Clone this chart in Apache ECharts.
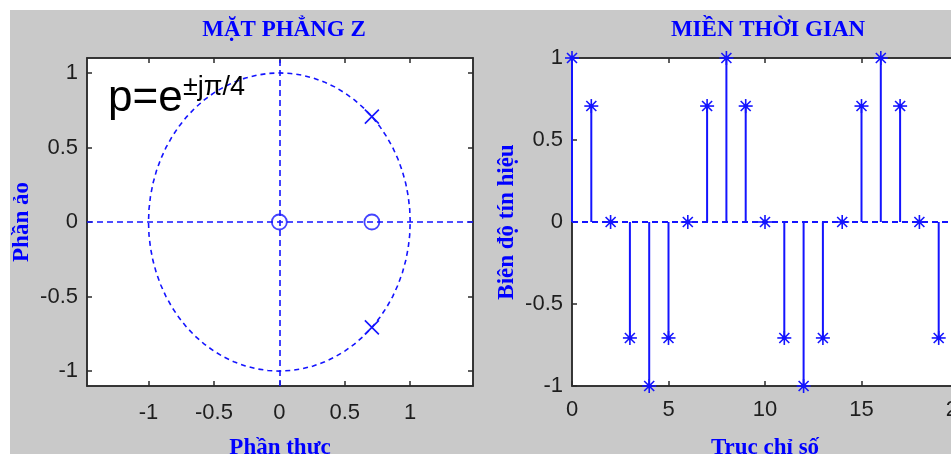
<!DOCTYPE html>
<html>
<head>
<meta charset="utf-8">
<script src="https://cdn.jsdelivr.net/npm/echarts@6/dist/echarts.min.js"></script>
<style>
  html, body { margin: 0; padding: 0; background: #fff; }
  #chart { width: 951px; height: 454px; }
</style>
</head>
<body>
<div id="chart"></div>
<script>
// Pole-zero plot: zeros (o) and poles (x) of the resonator
const zeroRe = [0, 0.7071];
const zeroIm = [0, 0];
const poleRe = [0.7071, 0.7071];
const poleIm = [0.7071, -0.7071];

// Impulse response samples
const sampleIndex = [0, 1, 2, 3, 4, 5, 6, 7, 8, 9, 10, 11, 12, 13, 14, 15, 16, 17, 18, 19, 20];
const sampleValue = [1, 0.7071, 0, -0.7071, -1, -0.7071, 0, 0.7071, 1, 0.7071, 0, -0.7071, -1, -0.7071, 0, 0.7071, 1, 0.7071, 0, -0.7071, -1];

// Tick labels
const planeTicks = [-1, -0.5, 0, 0.5, 1];
const indexTicks = [0, 5, 10, 15, 20];
const ampTicks = [-1, -0.5, 0, 0.5, 1];

const BLUE = '#1414ff';
const AXIS = '#2b2b2b';
const labelFont = { fontFamily: 'Liberation Sans, Arial, sans-serif', fontSize: 22, color: '#1e1e1e' };
const nameFont = { fontFamily: 'Liberation Serif, Times New Roman, serif', fontWeight: 'bold', fontSize: 23, color: '#0000ff' };

// Unit circle reference (guide, not data)
const unitCircle = [];
for (let k = 0; k <= 72; k++) {
  const a = (2 * Math.PI * k) / 72;
  unitCircle.push([Math.cos(a), Math.sin(a)]);
}

function valueAxis(opts) {
  const base = {
    type: 'value',
    axisLine: { show: true, onZero: false, lineStyle: { color: AXIS, width: 1.5 } },
    axisTick: { show: true, inside: true, length: 5, lineStyle: { color: AXIS, width: 1.5 }, customValues: opts.ticks },
    axisLabel: Object.assign({ show: !opts.mirror, margin: opts.margin || 9, customValues: opts.ticks }, labelFont),
    splitLine: { show: false }
  };
  return Object.assign(base, opts.extra);
}

const chart = echarts.init(document.getElementById('chart'), null, { renderer: 'canvas' });

function poleMarks(params, api) {
  const p = api.coord([api.value(0), api.value(1)]);
  const r = 7;
  const st = { stroke: BLUE, lineWidth: 1.6 };
  return {
    type: 'group',
    children: [
      { type: 'line', shape: { x1: p[0] - r, y1: p[1] - r, x2: p[0] + r, y2: p[1] + r }, style: st },
      { type: 'line', shape: { x1: p[0] - r, y1: p[1] + r, x2: p[0] + r, y2: p[1] - r }, style: st }
    ]
  };
}

function stemMarks(params, api) {
  const x = api.value(0), y = api.value(1);
  const p = api.coord([x, y]);
  const b = api.coord([x, 0]);
  const r = 7, d = 5;
  const st = { stroke: BLUE, lineWidth: 1.6 };
  return {
    type: 'group',
    children: [
      { type: 'line', shape: { x1: p[0], y1: b[1], x2: p[0], y2: p[1] }, style: { stroke: BLUE, lineWidth: 2 } },
      { type: 'line', shape: { x1: p[0] - r, y1: p[1], x2: p[0] + r, y2: p[1] }, style: st },
      { type: 'line', shape: { x1: p[0], y1: p[1] - r, x2: p[0], y2: p[1] + r }, style: st },
      { type: 'line', shape: { x1: p[0] - d, y1: p[1] - d, x2: p[0] + d, y2: p[1] + d }, style: st },
      { type: 'line', shape: { x1: p[0] - d, y1: p[1] + d, x2: p[0] + d, y2: p[1] - d }, style: st },
      { type: 'circle', shape: { cx: p[0], cy: p[1], r: 2.4 }, style: { fill: BLUE } }
    ]
  };
}

const option = {
  animation: false,
  backgroundColor: '#ffffff',
  graphic: [
    { type: 'rect', z: -10, silent: true, shape: { x: 10, y: 10, width: 941, height: 444 }, style: { fill: '#c9c9c9' } },
    { type: 'text', z: 50, left: 108, top: 77, style: { text: 'p=e', fontFamily: 'Liberation Sans, Arial, sans-serif', fontSize: 44, fill: '#000' } },
    { type: 'text', z: 50, left: 183, top: 74, style: { text: '±jπ/4', fontFamily: 'Liberation Sans, Arial, sans-serif', fontSize: 27, fill: '#000' } }
  ],
  title: [
    { text: 'MẶT PHẲNG Z', left: 279, top: 14, textAlign: 'center', textStyle: nameFont },
    { text: 'MIỀN THỜI GIAN', left: 763, top: 14, textAlign: 'center', textStyle: nameFont }
  ],
  grid: [
    { left: 87, top: 58, width: 386, height: 328, outerBoundsMode: 'none', containLabel: false, show: true, backgroundColor: '#ffffff', borderColor: AXIS, borderWidth: 1.5 },
    { left: 572, top: 58, width: 386, height: 328, outerBoundsMode: 'none', containLabel: false, show: true, backgroundColor: '#ffffff', borderColor: AXIS, borderWidth: 1.5 }
  ],
  xAxis: [
    valueAxis({ ticks: planeTicks, margin: 16, extra: { gridIndex: 0, min: -1.47, max: 1.48, position: 'bottom',
      name: 'Phần thực', nameLocation: 'middle', nameGap: 51, nameTextStyle: nameFont } }),
    valueAxis({ ticks: planeTicks, mirror: true, extra: { gridIndex: 0, min: -1.47, max: 1.48, position: 'top' } }),
    valueAxis({ ticks: indexTicks, margin: 13, extra: { gridIndex: 1, min: 0, max: 20, position: 'bottom',
      name: 'Trục chỉ số', nameLocation: 'middle', nameGap: 51, nameTextStyle: nameFont } }),
    valueAxis({ ticks: indexTicks, mirror: true, extra: { gridIndex: 1, min: 0, max: 20, position: 'top' } })
  ],
  yAxis: [
    valueAxis({ ticks: planeTicks, extra: { gridIndex: 0, min: -1.1, max: 1.1, position: 'left',
      name: 'Phần ảo', nameLocation: 'middle', nameGap: 53, nameTextStyle: nameFont } }),
    valueAxis({ ticks: planeTicks, mirror: true, extra: { gridIndex: 0, min: -1.1, max: 1.1, position: 'right' } }),
    valueAxis({ ticks: ampTicks, extra: { gridIndex: 1, min: -1, max: 1, position: 'left',
      name: 'Biên độ tín hiệu', nameLocation: 'middle', nameGap: 53, nameTextStyle: nameFont } }),
    valueAxis({ ticks: ampTicks, mirror: true, extra: { gridIndex: 1, min: -1, max: 1, position: 'right' } })
  ],
  series: [
    {
      type: 'line', xAxisIndex: 0, yAxisIndex: 0, data: unitCircle, showSymbol: false, silent: true, z: 3,
      lineStyle: { color: BLUE, width: 1.6, type: [5, 4] },
      markLine: {
        silent: true, symbol: 'none', label: { show: false },
        lineStyle: { color: BLUE, width: 1.6, type: [6, 4] },
        data: [{ xAxis: 0 }, { yAxis: 0 }]
      }
    },
    {
      type: 'scatter', xAxisIndex: 0, yAxisIndex: 0, z: 5,
      data: zeroRe.map((v, i) => [v, zeroIm[i]]),
      symbol: 'circle', symbolSize: 15,
      itemStyle: { color: 'rgba(0,0,0,0)', borderColor: BLUE, borderWidth: 1.8 }
    },
    {
      type: 'custom', xAxisIndex: 0, yAxisIndex: 0, z: 5,
      data: poleRe.map((v, i) => [v, poleIm[i]]),
      renderItem: poleMarks
    },
    {
      type: 'line', xAxisIndex: 2, yAxisIndex: 2, data: [], silent: true, z: 3,
      markLine: {
        silent: true, symbol: 'none', label: { show: false },
        lineStyle: { color: BLUE, width: 2, type: [6, 4] },
        data: [{ yAxis: 0 }]
      }
    },
    {
      type: 'custom', xAxisIndex: 2, yAxisIndex: 2, z: 6, clip: false,
      data: sampleIndex.map((n, i) => [n, sampleValue[i]]),
      renderItem: stemMarks
    }
  ]
};

chart.setOption(option);
</script>
</body>
</html>
